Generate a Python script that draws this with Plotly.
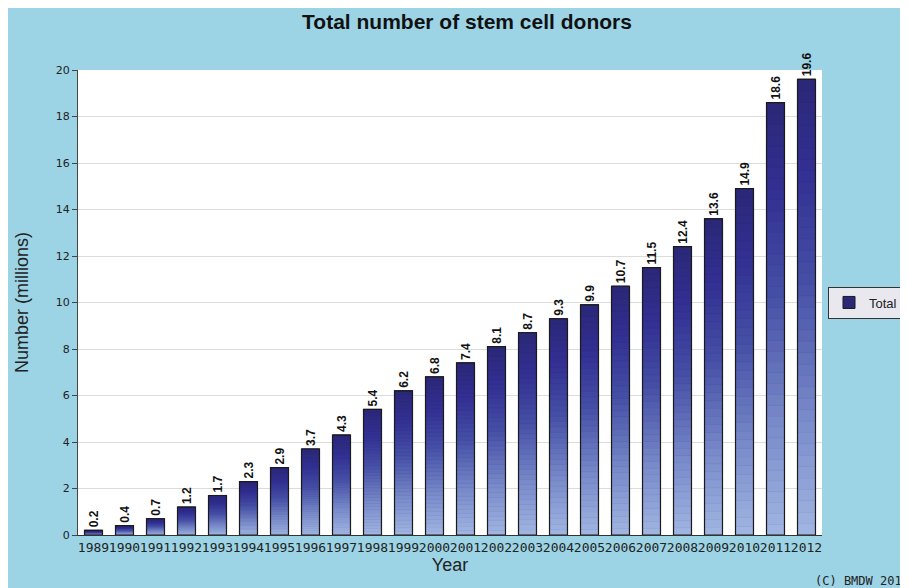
import plotly.graph_objects as go
from plotly.colors import sample_colorscale

years = [str(y) for y in range(1989, 2013)]
donors = [0.2, 0.4, 0.7, 1.2, 1.7, 2.3, 2.9, 3.7, 4.3, 5.4, 6.2, 6.8,
          7.4, 8.1, 8.7, 9.3, 9.9, 10.7, 11.5, 12.4, 13.6, 14.9, 18.6, 19.6]
labels = [f"{v:.1f}" for v in donors]
y_ticks = list(range(0, 21, 2))

BG = "#9cd4e6"
TOP = "#2b2878"
# gradient: 0 = bottom of bar (light), 1 = top (dark)
grad = [[0.0, "#a2b6e2"], [0.25, "#7a8ccb"], [0.55, "#4650a6"],
        [0.8, "#322f92"], [1.0, "#2b2878"]]

N = 40
fig = go.Figure()

# full bar (legend entry)
fig.add_trace(go.Bar(x=years, y=donors, name="Total",
                     marker=dict(color=TOP, line=dict(color="#1a1a1a", width=1)),
                     hoverinfo="skip"))

# gradient slices
cols = sample_colorscale(grad, [(k + 0.5) / N for k in range(N)])
for k in range(N):
    fig.add_trace(go.Bar(
        x=years,
        y=[v / N for v in donors],
        base=[v * k / N for v in donors],
        marker=dict(color=cols[k], line=dict(color=cols[k], width=0.6)),
        showlegend=False, hoverinfo="skip"))

# outline + labels
fig.add_trace(go.Bar(
    x=years, y=donors, text=labels, textposition="outside", textangle=-90,
    constraintext="none",
    textfont=dict(family="Liberation Sans, Arial", size=12, color="#111",
                  weight="bold"),
    marker=dict(color="rgba(0,0,0,0)", line=dict(color="#1a1a1a", width=1.2)),
    cliponaxis=False, showlegend=False, name="Total"))

W, H = 900, 580
PL, PT, PR, PB = 70, 62, 814, 527  # plot area in figure pixels
PH = PB - PT
PW = PR - PL

fig.update_layout(
    width=W, height=H,
    barmode="overlay", bargap=0.42,
    paper_bgcolor=BG, plot_bgcolor="white",
    margin=dict(l=PL, r=W - PR, t=PT, b=H - PB, autoexpand=False),
    title=dict(text="<b>Total number of stem cell donors</b>",
               x=(459 - PL) / PW, xref="paper", xanchor="center",
               y=1 - 14 / H, yref="container", yanchor="middle",
               pad=dict(t=0, b=0),
               font=dict(family="Liberation Sans, Arial", size=21, color="#111")),
    legend=dict(x=(820 - PL) / PW, xanchor="left", y=0.5, yanchor="middle",
                bgcolor="#e8e8ee", bordercolor="#333", borderwidth=1,
                itemwidth=30, tracegroupgap=0,
                font=dict(family="Liberation Sans, Arial", size=13, color="#222")),
    showlegend=True,
)

fig.update_xaxes(
    type="category", tickangle=0,
    tickfont=dict(family="DejaVu Sans Mono", size=13, color="#222"),
    showline=True, linecolor="#333", linewidth=1, ticks="", showgrid=False,
    title=dict(text="Year", font=dict(family="Liberation Sans, Arial", size=18, color="#222"),
               standoff=0))
fig.update_yaxes(
    range=[0, 20], tickvals=y_ticks,
    tickfont=dict(family="DejaVu Sans", size=11, color="#222"),
    showline=True, linecolor="#444", linewidth=1, ticks="outside", ticklen=5,
    tickcolor="#444", gridcolor="#dcdcdc", zeroline=False,
    title=dict(text="Number (millions)",
               font=dict(family="Liberation Sans, Arial", size=18, color="#222"),
               standoff=22))

fig.add_annotation(text="(C) BMDW 2012", xref="paper", yref="paper",
                   x=(805 - PL) / PW, y=(PB - 573) / PH,
                   xanchor="left", yanchor="middle", showarrow=False,
                   font=dict(family="DejaVu Sans Mono", size=12, color="#222"))

fig.write_html("out.html")
